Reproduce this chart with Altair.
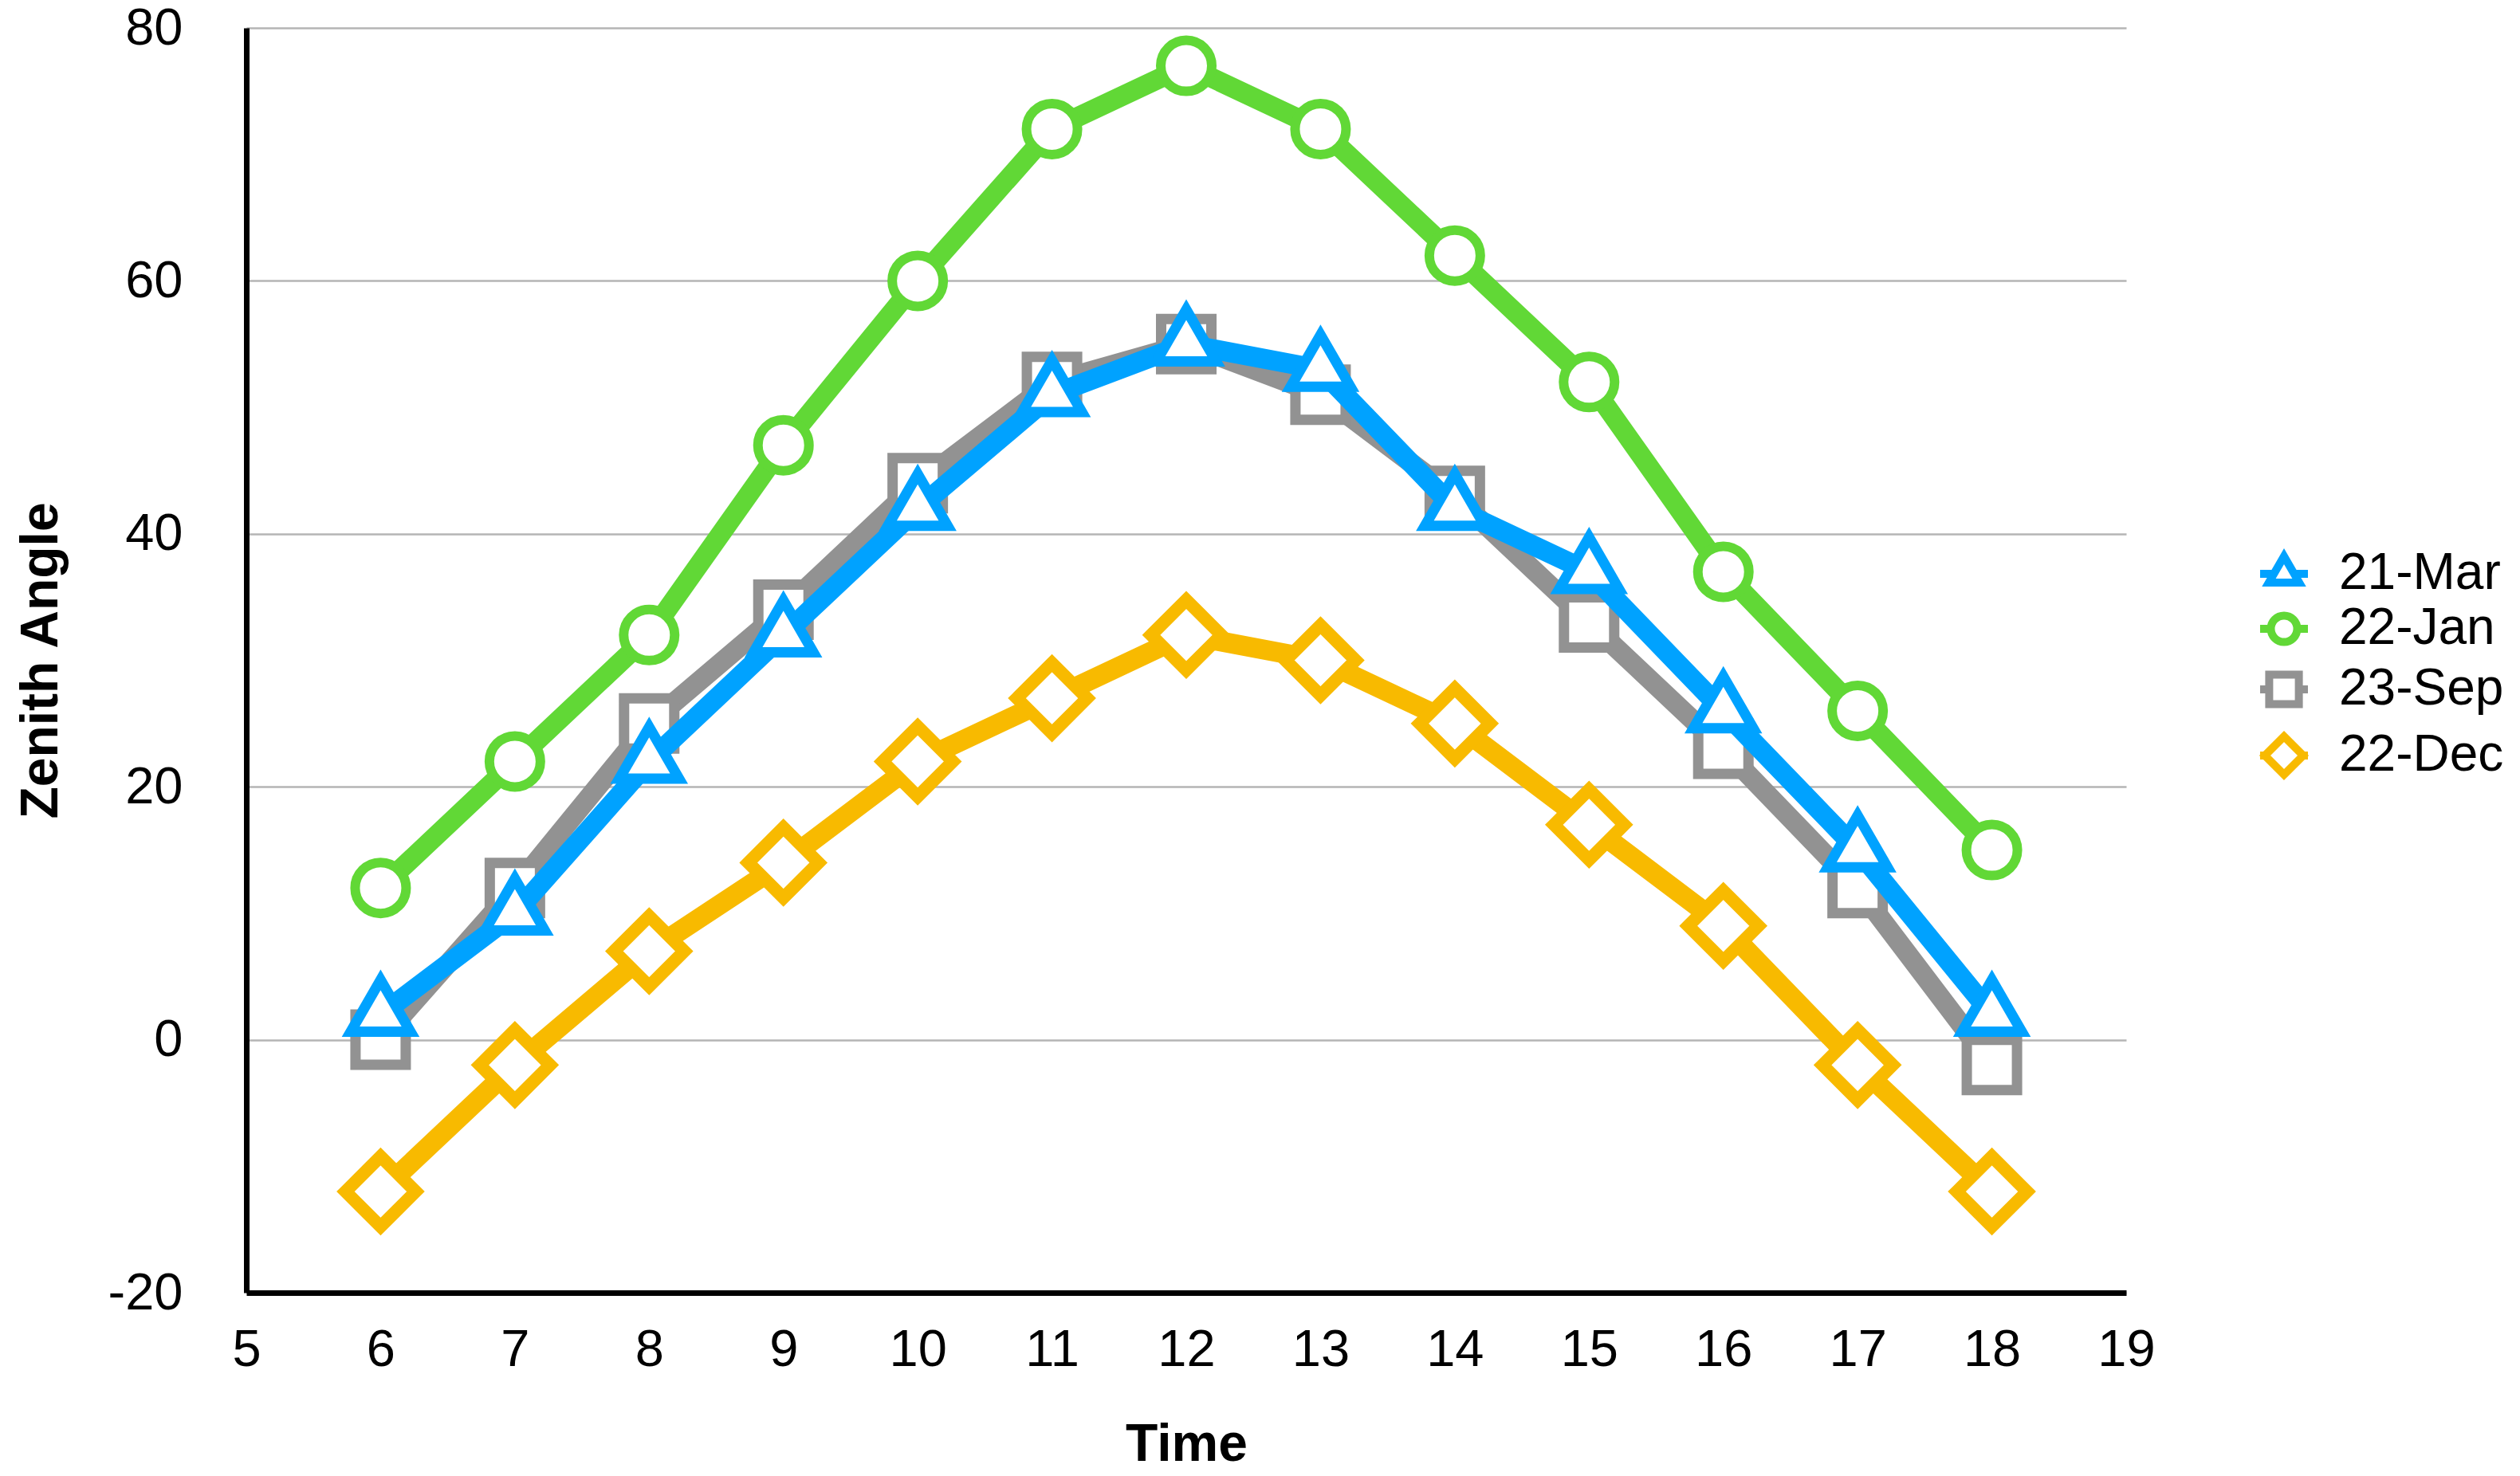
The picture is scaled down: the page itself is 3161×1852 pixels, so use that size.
import altair as alt
import pandas as pd

# ---- data ----
hours = [6, 7, 8, 9, 10, 11, 12, 13, 14, 15, 16, 17, 18]
mar21 = [2, 10, 22, 32, 42, 51, 55, 53, 42, 37, 26, 15, 2]
jan22 = [12, 22, 32, 47, 60, 72, 77, 72, 62, 52, 37, 26, 15]
sep23 = [0, 12, 25, 34, 44, 52, 55, 51, 43, 33, 23, 12, -2]
dec22 = [-12, -2, 7, 14, 22, 27, 32, 30, 25, 17, 9, -2, -12]

series_names = ["21-Mar", "22-Jan", "23-Sep", "22-Dec"]
series_values = [mar21, jan22, sep23, dec22]
colors = ["#00A2FF", "#61D836", "#929292", "#F8BA00"]

x_ticks = list(range(5, 20))
y_ticks = [-20, 0, 20, 40, 60, 80]

rows = []
for name, vals in zip(series_names, series_values):
    for h, v in zip(hours, vals):
        rows.append({"hour": h, "value": v, "series": name})
df = pd.DataFrame(rows)

# ---- styling ----
FONT = "Liberation Sans"
TRI = "M0,-1L0.866,0.5L-0.866,0.5Z"
point_style = {
    "21-Mar": dict(shape=TRI, size=7500, strokeWidth=13),
    "22-Jan": dict(shape="circle", size=4096, strokeWidth=12),
    "23-Sep": dict(shape="square", size=3969, strokeWidth=13),
    "22-Dec": dict(shape="diamond", size=7744, strokeWidth=16),
}


def circ(r):
    k = 0.5523 * r
    return (f"M{-r},0C{-r},{-k} {-k},{-r} 0,{-r}C{k},{-r} {r},{-k} {r},0"
            f"C{r},{k} {k},{r} 0,{r}C{-k},{r} {-r},{k} {-r},0Z")


legend_paths = [
    "M0,-0.73L0.635,0.367L-0.635,0.367Z M-1,0H-0.42 M0.42,0H1",
    circ(0.55) + " M-1,0H-0.55 M0.55,0H1",
    "M-0.62,-0.62H0.62V0.62H-0.62Z M-1,0H-0.62 M0.62,0H1",
    "M0,-0.8L0.8,0L0,0.8L-0.8,0Z M-1,0H-0.8 M0.8,0H1",
]

x_enc = alt.X(
    "hour:Q",
    scale=alt.Scale(domain=[5, 19], nice=False, zero=False),
    axis=alt.Axis(values=x_ticks, title="Time", grid=False, ticks=False,
                  labelFlush=False, labelOverlap=False, labelPadding=40,
                  titlePadding=54, labelExpr="'' + datum.value"),
)
y_enc = alt.Y(
    "value:Q",
    scale=alt.Scale(domain=[-20, 80], nice=False, zero=False),
    axis=alt.Axis(values=y_ticks, title="Zenith Angle", grid=True, ticks=False,
                  labelFlush=False, labelOverlap=False, labelPadding=80,
                  titlePadding=50, labelExpr="'' + datum.value"),
)

base = alt.Chart(df)
layers = []
# draw order: bottom to top
for name in ["22-Dec", "22-Jan", "23-Sep", "21-Mar"]:
    col = colors[series_names.index(name)]
    sub = base.transform_filter(alt.datum.series == name)
    line = sub.mark_line(color=col, strokeWidth=25, strokeJoin="miter",
                         strokeCap="butt").encode(x=x_enc, y=y_enc)
    st = point_style[name]
    pts = sub.mark_point(filled=True, fill="white", stroke=col, opacity=1,
                         shape=st["shape"], size=st["size"],
                         strokeWidth=st["strokeWidth"]).encode(x=x_enc, y=y_enc)
    layers += [line, pts]

legend_cfg = dict(
    title=None, orient="none", legendX=2521, legendY=650, padding=0,
    symbolSize=3600, symbolStrokeWidth=10, symbolFillColor="white",
    symbolOpacity=1, labelFont=FONT, labelFontSize=64, labelColor="black",
    labelOffset=34, rowPadding=0, labelLimit=400,
)
legend_layer = base.transform_filter("false").mark_point(
    filled=False, fill="white", strokeWidth=10, size=3600, opacity=1
).encode(
    x=x_enc, y=y_enc,
    color=alt.Color("series:N", sort=series_names,
                    scale=alt.Scale(domain=series_names, range=colors),
                    legend=alt.Legend(**legend_cfg)),
    shape=alt.Shape("series:N", sort=series_names,
                    scale=alt.Scale(domain=series_names, range=legend_paths),
                    legend=alt.Legend(**legend_cfg)),
)
layers.append(legend_layer)

chart = alt.layer(*layers).properties(
    width=2358, height=1587,
    autosize=alt.AutoSizeParams(type="none"),
    padding={"left": 301, "top": 27, "right": 482, "bottom": 220},
    background="white",
).configure_view(stroke=None).configure_axis(
    domainColor="black", domainWidth=7, gridColor="#b5b5b5", gridWidth=2.5,
    labelFont=FONT, labelFontSize=65, labelColor="black",
    titleFont=FONT, titleFontSize=66, titleFontWeight="bold", titleColor="black",
)

chart.save("out.html", embed_options={"renderer": "svg", "actions": False})
